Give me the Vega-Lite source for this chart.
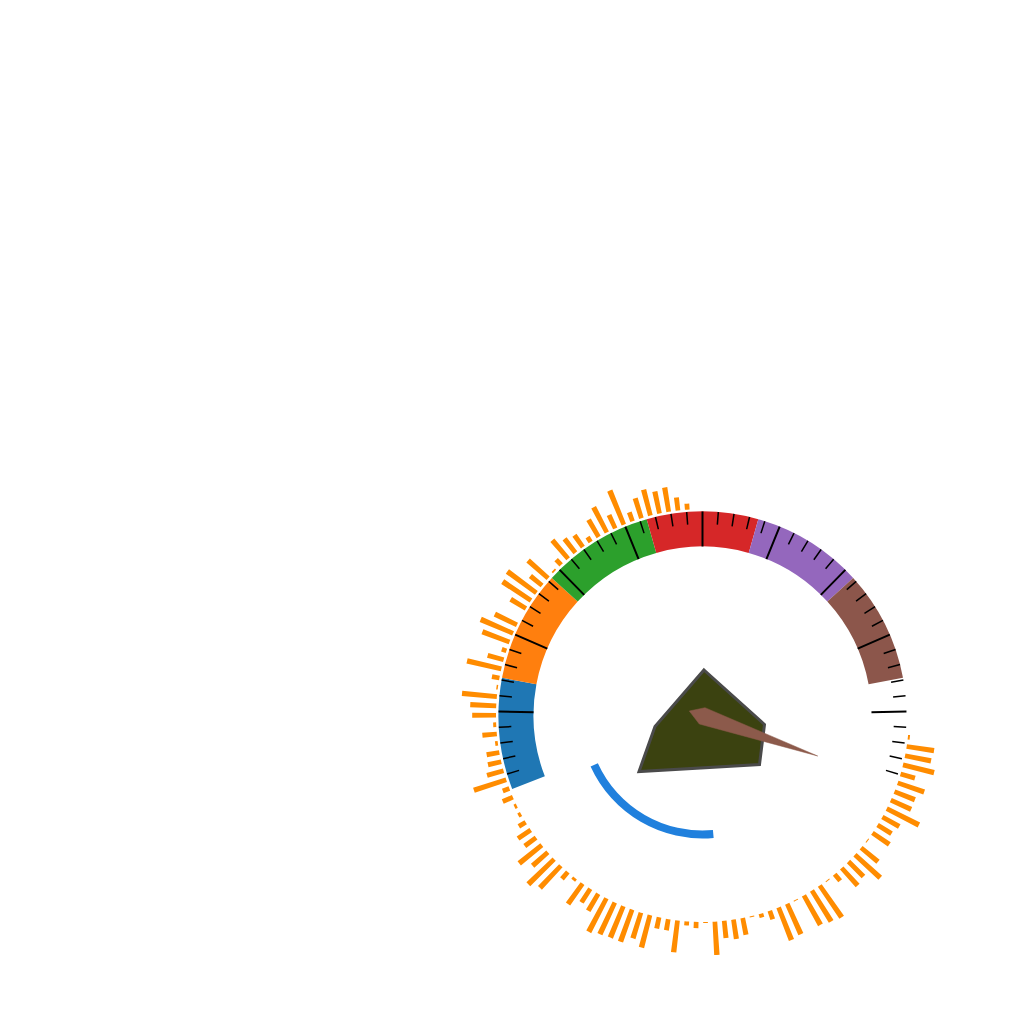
{
  "$schema": "https://vega.github.io/schema/vega-lite/v6.json",
  "width": 601,
  "height": 601,
  "autosize": "none",
  "padding": {"left": 402, "top": 415, "right": 0, "bottom": 0},
  "background": "white",
  "config": {"view": {"stroke": null}},
  "datasets": {
    "segments": [
      {"seg": "A", "from": 0, "to": 14.2857},
      {"seg": "B", "from": 14.2857, "to": 28.5714},
      {"seg": "C", "from": 28.5714, "to": 42.8571},
      {"seg": "D", "from": 42.8571, "to": 57.1429},
      {"seg": "E", "from": 57.1429, "to": 71.4286},
      {"seg": "F", "from": 71.4286, "to": 85.7143}
    ],
    "majors": [{"v": 10}, {"v": 20}, {"v": 30}, {"v": 40}, {"v": 50}, {"v": 60}, {"v": 70}, {"v": 80}, {"v": 90}],
    "minors": [
      {"v": 2}, {"v": 4}, {"v": 6}, {"v": 8}, {"v": 12}, {"v": 14}, {"v": 16}, {"v": 18},
      {"v": 22}, {"v": 24}, {"v": 26}, {"v": 28}, {"v": 32}, {"v": 34}, {"v": 36}, {"v": 38},
      {"v": 42}, {"v": 44}, {"v": 46}, {"v": 48}, {"v": 52}, {"v": 54}, {"v": 56}, {"v": 58},
      {"v": 62}, {"v": 64}, {"v": 66}, {"v": 68}, {"v": 72}, {"v": 74}, {"v": 76}, {"v": 78},
      {"v": 82}, {"v": 84}, {"v": 86}, {"v": 88}, {"v": 92}, {"v": 94}, {"v": 96}, {"v": 98}
    ],
    "bars": [
      {"i": 1, "len": 6}, {"i": 2, "len": 13}, {"i": 3, "len": 24.6}, {"i": 4, "len": 22.5}, {"i": 5, "len": 27},
      {"i": 6, "len": 21}, {"i": 7, "len": 9.5}, {"i": 8, "len": 36.8}, {"i": 9, "len": 14.7}, {"i": 10, "len": 28.5},
      {"i": 11, "len": 20}, {"i": 12, "len": 5.7}, {"i": 13, "len": 14.6}, {"i": 14, "len": 17.6}, {"i": 15, "len": 24.3},
      {"i": 16, "len": 7.4}, {"i": 17, "len": 1.7}, {"i": 18, "len": 26.8}, {"i": 19, "len": 15}, {"i": 20, "len": 36},
      {"i": 21, "len": 34}, {"i": 22, "len": 17.8}, {"i": 23, "len": 0}, {"i": 24, "len": 24.6}, {"i": 25, "len": 35.2},
      {"i": 26, "len": 29}, {"i": 27, "len": 4.8}, {"i": 28, "len": 16.6}, {"i": 29, "len": 35.2}, {"i": 30, "len": 7.6},
      {"i": 31, "len": 1.5}, {"i": 32, "len": 35}, {"i": 33, "len": 26}, {"i": 34, "len": 23.8}, {"i": 35, "len": 3},
      {"i": 36, "len": 14.5}, {"i": 37, "len": 2.7}, {"i": 38, "len": 12.9}, {"i": 39, "len": 13.6}, {"i": 40, "len": 17.1},
      {"i": 41, "len": 34}, {"i": 42, "len": 7}, {"i": 43, "len": 11}, {"i": 44, "len": 2.5}, {"i": 45, "len": 3},
      {"i": 46, "len": 8}, {"i": 47, "len": 15.2}, {"i": 48, "len": 14}, {"i": 49, "len": 29}, {"i": 50, "len": 20.3},
      {"i": 51, "len": 36}, {"i": 52, "len": 30.5}, {"i": 53, "len": 9}, {"i": 54, "len": 3}, {"i": 55, "len": 25},
      {"i": 56, "len": 16}, {"i": 57, "len": 19.8}, {"i": 58, "len": 38}, {"i": 59, "len": 35}, {"i": 60, "len": 34},
      {"i": 61, "len": 34}, {"i": 62, "len": 27}, {"i": 63, "len": 33.4}, {"i": 64, "len": 11.3}, {"i": 65, "len": 11.3},
      {"i": 66, "len": 32}, {"i": 67, "len": 4}, {"i": 68, "len": 6.3}, {"i": 69, "len": 1}, {"i": 70, "len": 33.4},
      {"i": 71, "len": 17.3}, {"i": 72, "len": 19.4}, {"i": 73, "len": 17}, {"i": 74, "len": 1}, {"i": 75, "len": 4},
      {"i": 76, "len": 9}, {"i": 77, "len": 35}, {"i": 78, "len": 33.3}, {"i": 79, "len": 1}, {"i": 80, "len": 33.8},
      {"i": 81, "len": 36.3}, {"i": 82, "len": 38.6}, {"i": 83, "len": 1}, {"i": 84, "len": 8.6}, {"i": 85, "len": 23.6},
      {"i": 86, "len": 21.2}, {"i": 87, "len": 34.2}, {"i": 88, "len": 22}, {"i": 89, "len": 1}, {"i": 90, "len": 20.5},
      {"i": 91, "len": 16.4}, {"i": 92, "len": 19.4}, {"i": 93, "len": 36}, {"i": 94, "len": 22.3}, {"i": 95, "len": 22},
      {"i": 96, "len": 28}, {"i": 97, "len": 15}, {"i": 98, "len": 32}, {"i": 99, "len": 26.5}, {"i": 100, "len": 27.7},
      {"i": 101, "len": 2}
    ],
    "progress": [{"a0": 174.8, "a1": 245.5}],
    "shape": [
      {"k": 1, "x": 1.5, "y": 45.5},
      {"k": 2, "x": 62, "y": -9},
      {"k": 3, "x": 57, "y": -49},
      {"k": 4, "x": -63.5, "y": -56},
      {"k": 5, "x": -47.5, "y": -11}
    ],
    "pointer": [
      {"k": 1, "x": -13.2, "y": 4.5},
      {"k": 2, "x": 2.5, "y": 7.8},
      {"k": 3, "x": 115.2, "y": -40.5},
      {"k": 4, "x": -3.2, "y": -8.5}
    ]
  },
  "layer": [
    {
      "data": {"name": "segments"},
      "mark": {"type": "arc", "radius": 204, "radius2": 169},
      "encoding": {
        "theta": {"field": "from", "type": "quantitative", "stack": null, "scale": {"domain": [0, 100], "range": [-1.9391, 1.9391]}},
        "theta2": {"field": "to"},
        "color": {"field": "seg", "type": "nominal", "legend": null,
          "scale": {"domain": ["A", "B", "C", "D", "E", "F"], "range": ["#1f77b4", "#ff7f0e", "#2ca02c", "#d62728", "#9467bd", "#8c564b"]}}
      }
    },
    {
      "data": {"name": "majors"},
      "mark": {"type": "arc", "radius": 204, "radius2": 169, "stroke": "#000000", "strokeWidth": 2, "fill": "#000000"},
      "encoding": {
        "theta": {"field": "v", "type": "quantitative", "stack": null, "scale": {"domain": [0, 100], "range": [-1.9391, 1.9391]}},
        "theta2": {"field": "v"}
      }
    },
    {
      "data": {"name": "minors"},
      "mark": {"type": "arc", "radius": 204, "radius2": 191.5, "stroke": "#000000", "strokeWidth": 1.5, "fill": "#000000"},
      "encoding": {
        "theta": {"field": "v", "type": "quantitative", "stack": null, "scale": {"domain": [0, 100], "range": [-1.9391, 1.9391]}},
        "theta2": {"field": "v"}
      }
    },
    {
      "data": {"name": "bars"},
      "mark": {"type": "arc", "color": "#ff8c00"},
      "encoding": {
        "theta": {"field": "i", "type": "ordinal", "scale": {"type": "band", "range": [6.23209, 1.6537], "paddingInner": 0.5, "paddingOuter": 0.25}},
        "radius": {"field": "len", "type": "quantitative", "scale": {"type": "linear", "domain": [0, 40], "range": [206.5, 246.5], "zero": false}},
        "radius2": {"datum": 0}
      }
    },
    {
      "data": {"name": "progress"},
      "mark": {"type": "arc", "radius": 123, "radius2": 115, "color": "#2080dd"},
      "encoding": {
        "theta": {"field": "a0", "type": "quantitative", "stack": null, "scale": {"domain": [0, 360], "range": [0, 6.283185]}},
        "theta2": {"field": "a1"}
      }
    },
    {
      "data": {"name": "shape"},
      "mark": {"type": "line", "interpolate": "linear-closed", "fill": "#3b4210", "stroke": "#4a4a4a", "strokeWidth": 3, "strokeJoin": "miter"},
      "encoding": {
        "x": {"field": "x", "type": "quantitative", "axis": null, "scale": {"domain": [-300.5, 300.5], "nice": false, "zero": false}},
        "y": {"field": "y", "type": "quantitative", "axis": null, "scale": {"domain": [-300.5, 300.5], "nice": false, "zero": false}},
        "order": {"field": "k"}
      }
    },
    {
      "data": {"name": "pointer"},
      "mark": {"type": "line", "interpolate": "linear-closed", "fill": "#8c5a4b", "stroke": "#8c5a4b", "strokeWidth": 0.5},
      "encoding": {
        "x": {"field": "x", "type": "quantitative", "axis": null, "scale": {"domain": [-300.5, 300.5], "nice": false, "zero": false}},
        "y": {"field": "y", "type": "quantitative", "axis": null, "scale": {"domain": [-300.5, 300.5], "nice": false, "zero": false}},
        "order": {"field": "k"}
      }
    }
  ],
  "resolve": {"scale": {"theta": "independent", "radius": "independent", "color": "independent"}}
}
